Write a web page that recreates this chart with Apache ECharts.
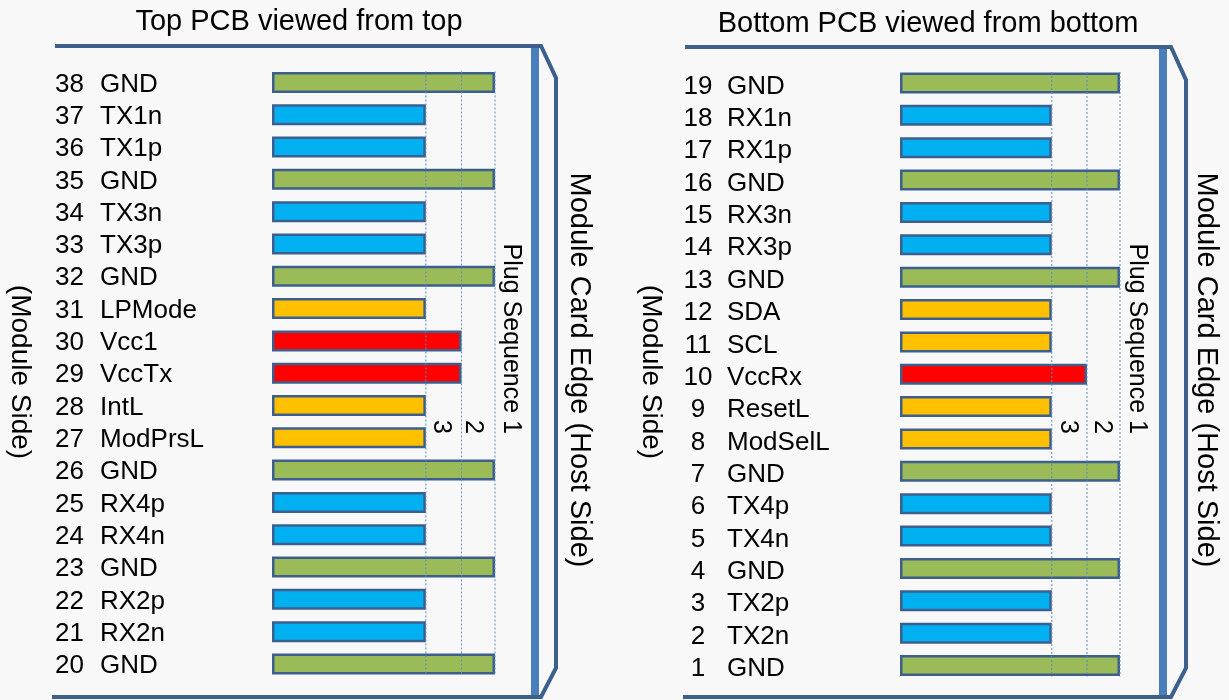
<!DOCTYPE html>
<html><head><meta charset="utf-8">
<script src="https://cdn.jsdelivr.net/npm/echarts@6/dist/echarts.min.js"></script>
<style>html,body{margin:0;padding:0;background:#f8f8f8}#c{width:1229px;height:700px}</style>
</head><body><div id="c"></div><script>
// ---- data ----
const topPins = ['38','37','36','35','34','33','32','31','30','29','28','27','26','25','24','23','22','21','20'];
const topNames = ['GND','TX1n','TX1p','GND','TX3n','TX3p','GND','LPMode','Vcc1','VccTx','IntL','ModPrsL','GND','RX4p','RX4n','GND','RX2p','RX2n','GND'];
const topSeq = [1,3,3,1,3,3,1,3,2,2,3,3,1,3,3,1,3,3,1];
const bottomPins = ['19','18','17','16','15','14','13','12','11','10','9','8','7','6','5','4','3','2','1'];
const bottomNames = ['GND','RX1n','RX1p','GND','RX3n','RX3p','GND','SDA','SCL','VccRx','ResetL','ModSelL','GND','TX4p','TX4n','GND','TX2p','TX2n','GND'];
const bottomSeq = [1,3,3,1,3,3,1,3,3,2,3,3,1,3,3,1,3,3,1];
const seqLength = {1: 100, 2: 85, 3: 69};          // relative contact length per plug sequence
const seqLabels = {1: 'Plug Sequence 1', 2: '2', 3: '3'};
const titles = ['Top PCB viewed from top', 'Bottom PCB viewed from bottom'];
const hostLabel = 'Module Card Edge (Host Side)';
const moduleLabel = '(Module Side)';

// ---- styles ----
const FONT = '"Liberation Sans", Arial, sans-serif';
const COLORS = {gnd:'#9BBB59', hs:'#00B0F0', ls:'#FFC000', pwr:'#FF0000'};
function kind(n){ if(n==='GND') return 'gnd'; if(/^Vcc/.test(n)) return 'pwr'; if(/^(TX|RX)\d/.test(n)) return 'hs'; return 'ls'; }

const panels = [
  {pins: topPins, names: topNames, seq: topSeq, left: 272, width: 223, top: 66.3, height: 613.8, margin: 217, numW: 29, gap: 16, pad: 4,
   title: titles[0], titleX: 299, titleY: 22, hostX: 579, modX: 20, thickX: 535,
   frame: [[55,46],[541,46],[556,78],[556,668],[541,697],[52,697]], seqOff: {1:16, 2:11, 3:15}},
  {pins: bottomPins, names: bottomNames, seq: bottomSeq, left: 900, width: 220, top: 66.8, height: 614.9, margin: 216, numW: 28, gap: 15, pad: 7,
   title: titles[1], titleX: 928, titleY: 24, hostX: 1206, modX: 651, thickX: 1163,
   frame: [[685,47],[1171,47],[1186,80],[1186,668],[1171,697],[683,697]], seqOff: {1:17, 2:15, 3:16}}
];

const chart = echarts.init(document.getElementById('c'), null, {renderer: 'canvas'});
const option = {
  backgroundColor: '#f8f8f8',
  animation: false,
  grid: panels.map(p => ({left: p.left, width: p.width, top: p.top, height: p.height, containLabel: false})),
  xAxis: panels.map((p, i) => ({type: 'value', gridIndex: i, min: 0, max: 100, show: false})),
  yAxis: panels.map((p, i) => ({
    type: 'category', gridIndex: i, data: p.pins, inverse: true,
    axisLine: {show: false}, axisTick: {show: false}, splitLine: {show: false},
    axisLabel: {
      align: 'left', margin: p.margin, padding: [p.pad, 0, 0, 0],
      formatter: (v, idx) => '{n|' + v + '}{s|' + p.names[idx] + '}',
      rich: {
        n: {width: p.numW, align: 'right', fontSize: 26, fontFamily: FONT, color: '#000'},
        s: {fontSize: 26, fontFamily: FONT, color: '#000', padding: [0, 0, 0, p.gap]}
      }
    }
  })),
  series: panels.map((p, i) => ({
    type: 'bar', xAxisIndex: i, yAxisIndex: i, barWidth: 21, silent: true,
    itemStyle: {borderColor: '#3D5F8E', borderWidth: 2.5},
    data: p.seq.map((s, j) => ({value: seqLength[s], itemStyle: {color: COLORS[kind(p.names[j])]}}))
  }))
};
chart.setOption(option);

const g = [];
panels.forEach((p, i) => {
  g.push({type: 'polyline', shape: {points: p.frame}, style: {stroke: '#3C5F8C', lineWidth: 4, fill: null, lineJoin: 'miter'}, z: 50});
  g.push({type: 'line', shape: {x1: p.thickX, y1: 48, x2: p.thickX, y2: 696}, style: {stroke: '#4A7EBB', lineWidth: 8}, z: 49});
  g.push({type: 'text', x: p.titleX, y: p.titleY, style: {text: p.title, font: '29px ' + FONT, fill: '#000', align: 'center', verticalAlign: 'middle'}, z: 50});
  g.push({type: 'text', x: p.hostX, y: 370, rotation: -Math.PI / 2, style: {text: hostLabel, font: '29px ' + FONT, fill: '#000', align: 'center', verticalAlign: 'middle'}, z: 50});
  g.push({type: 'text', x: p.modX, y: 372, rotation: -Math.PI / 2, style: {text: moduleLabel, font: '28px ' + FONT, fill: '#000', align: 'center', verticalAlign: 'middle'}, z: 50});
  const yTop = chart.convertToPixel({yAxisIndex: i}, p.pins[0]) - 11;
  const yBot = chart.convertToPixel({yAxisIndex: i}, p.pins[p.pins.length - 1]) + 11;
  [3, 2, 1].forEach(s => {
    const x = chart.convertToPixel({xAxisIndex: i}, seqLength[s]);
    g.push({type: 'line', shape: {x1: x, y1: yTop, x2: x, y2: yBot}, style: {stroke: '#5A8AC6', lineWidth: 1, lineDash: [2, 2]}, z: 100});
    g.push({type: 'text', x: x + p.seqOff[s], y: 434, rotation: -Math.PI / 2, style: {text: seqLabels[s], font: '25px ' + FONT, fill: '#000', align: 'right', verticalAlign: 'middle'}, z: 100});
  });
});
chart.setOption({graphic: g});
</script></body></html>
